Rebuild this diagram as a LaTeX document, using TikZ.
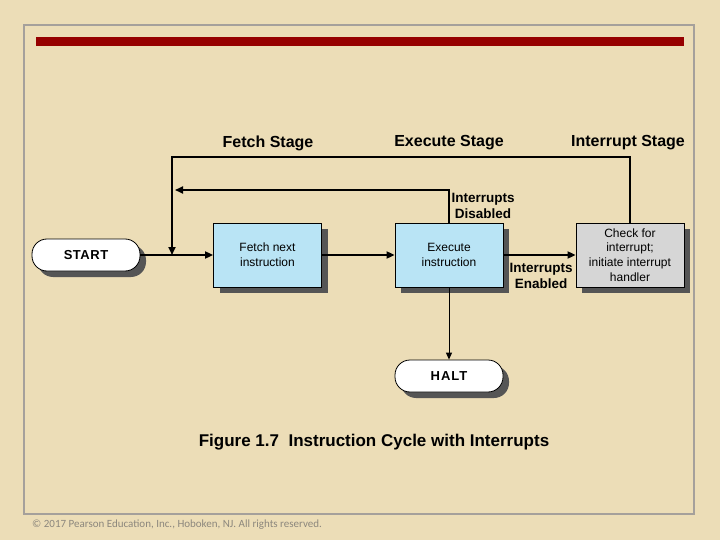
\documentclass[tikz,border=0pt]{standalone}
\usepackage{fontspec}
\setmainfont{Liberation Sans}
\newfontfamily\copyfont{Carlito}
\usetikzlibrary{arrows.meta,shadows}
\definecolor{bg}{RGB}{236,221,183}
\definecolor{framegray}{RGB}{165,160,155}
\definecolor{barred}{RGB}{150,0,0}
\definecolor{boxblue}{RGB}{185,228,245}
\definecolor{boxgray}{RGB}{214,214,214}
\definecolor{shadowgray}{RGB}{85,85,85}
\definecolor{copygray}{RGB}{140,135,125}
\begin{document}
\begin{tikzpicture}[x=1pt,y=-1pt,
  shad/.style={drop shadow={shadow xshift=6pt,shadow yshift=-6pt,fill=shadowgray,opacity=1}},
  procbox/.style={draw=black,line width=0.8pt,minimum width=108pt,minimum height=64pt,inner sep=0pt,align=center,font=\fontsize{12}{15}\selectfont,shad},
  termbox/.style={draw=black,line width=0.8pt,fill=white,rounded corners=15pt,minimum width=108pt,minimum height=32pt,inner sep=0pt,shad},
  stagelbl/.style={font=\bfseries\fontsize{16}{18}\selectfont},
  condlbl/.style={align=center,font=\bfseries\fontsize{13.5}{16}\selectfont},
  arr/.style={line width=1.8pt,-{Triangle[length=8pt,width=7pt]}},
  ln/.style={line width=1.8pt}]
\useasboundingbox (0,0) rectangle (720,540);
\fill[bg] (0,0) rectangle (720,540);
\draw[framegray,line width=2pt] (24,25) rectangle (694,514);
\fill[barred] (36,37) rectangle (684,46);

\node[stagelbl] (fs) at (268,143) {Fetch Stage};
\node[stagelbl] (es) at (449,143) {Execute Stage};
\node[stagelbl] (is) at (628,143) {Interrupt Stage};

\node[termbox,font=\bfseries\fontsize{13}{15}\selectfont\addfontfeature{LetterSpace=4}] (start) at (86,255) {START};
\node[procbox,fill=boxblue] (fetch) at (267.5,255) {Fetch next\\instruction};
\node[procbox,fill=boxblue] (exec) at (449,255) {Execute\\instruction};
\node[procbox,fill=boxgray,font=\fontsize{12}{14.7}\selectfont] (check) at (630,255) {Check for\\interrupt;\\initiate interrupt\\handler};
\node[termbox,font=\bfseries\fontsize{13}{15}\selectfont\addfontfeature{LetterSpace=8}] (halt) at (449,376) {HALT};

\coordinate (junc) at (172,255);
\coordinate (topleft) at (172,157);
\coordinate (disleft) at (175,190);

\draw[arr] (start.east) -- (fetch.west);
\draw[arr] (fetch.east) -- (exec.west);
\draw[arr] (exec.east) -- (check.west);
\draw[line width=1pt,-{Triangle[length=7pt,width=6pt]}] (exec.south) -- (halt.north);
\draw[arr] (check.north) |- (topleft) -- (junc);
\draw[arr] (exec.north) |- (disleft);

\node[condlbl,anchor=north] (dis) at (483,190) {Interrupts\\Disabled};
\node[condlbl,anchor=north] (ena) at (541,260) {Interrupts\\Enabled};

\node[font=\bfseries\fontsize{17}{20}\selectfont] (cap) at (374,442) {Figure 1.7\ \ Instruction Cycle with Interrupts};
\node[anchor=west,text=copygray,font=\copyfont\fontsize{11}{13}\selectfont,inner sep=0pt] (copy) at (32,525) {© 2017 Pearson Education, Inc., Hoboken, NJ. All rights reserved.};
\end{tikzpicture}
\end{document}
